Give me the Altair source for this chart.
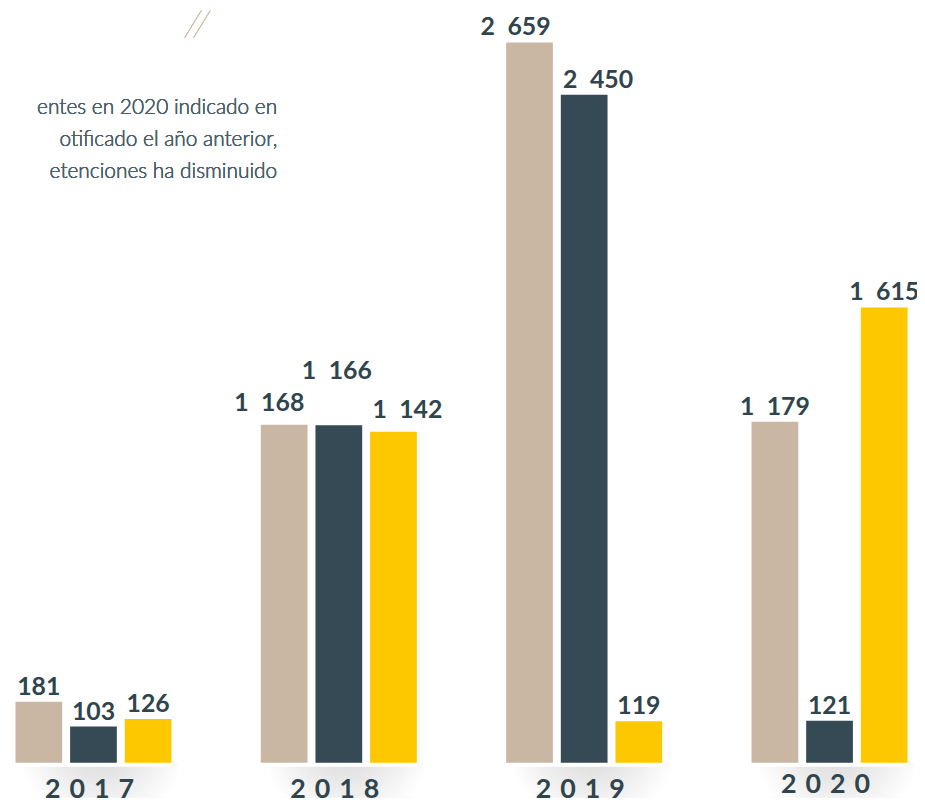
import altair as alt
import pandas as pd

# ---- data ----
years = ["2017", "2018", "2019", "2020"]
series = ["Serie 1", "Serie 2", "Serie 3"]
serie1 = [181, 1168, 2659, 1179]
serie2 = [103, 1166, 2450, 121]
serie3 = [126, 1142, 119, 1615]
colors = ["#c9b7a4", "#354a54", "#fdc800"]
intro_lines = [
    "entes en 2020 indicado en",
    "otificado el año anterior,",
    "etenciones ha disminuido",
]

rows = []
for s, vals in zip(series, [serie1, serie2, serie3]):
    for y, v in zip(years, vals):
        rows.append({"year": y, "serie": s, "value": v,
                     "label": f"{v:,}".replace(",", "\u2002")})
df = pd.DataFrame(rows)
ydf = pd.DataFrame({"year": years, "ylabel": ["\u2004".join(y) for y in years]})

W, H = 915, 800
xscale = alt.Scale(domain=years, range=[7.5, 905.5], paddingInner=0.364, paddingOuter=0)
xoff = alt.Scale(domain=series, paddingInner=0.145, paddingOuter=0)
yscale = alt.Scale(type="pow", exponent=0.92, domain=[0, 2659], range=[757, 32], nice=False, zero=True)

X = alt.X("year:N", scale=xscale, axis=None)
XO = alt.XOffset("serie:N", scale=xoff)
Y = alt.Y("value:Q", scale=yscale, axis=None)

shadow = alt.Chart(ydf).mark_bar(
    xOffset=8, x2Offset=26,
    color=alt.Gradient(gradient="radial", x1=0.5, y1=0.25, r1=0.0, x2=0.5, y2=0.25, r2=0.55,
                       stops=[alt.GradientStop(color="#d4d4d4", offset=0),
                              alt.GradientStop(color="#ffffff", offset=1)]),
).encode(x=X, y=alt.value(756), y2=alt.value(792))

platform = alt.Chart(ydf).mark_bar(color="#ffffff", x2Offset=4).encode(
    x=X, y=alt.value(756), y2=alt.value(761))

bars = alt.Chart(df).mark_bar().encode(
    x=X, xOffset=XO, y=Y,
    color=alt.Color("serie:N", scale=alt.Scale(domain=series, range=colors), legend=None),
)

txt = dict(font="Lato", fontWeight="bold", fontSize=25,
           color="#2f444d", baseline="alphabetic", align="center")

def lbl(cond, dx=0, dy=-7):
    return alt.Chart(df).transform_filter(cond).mark_text(dx=dx, dy=dy, **txt).encode(
        x=X, xOffset=XO, y=Y, text="label:N")

is2018 = alt.datum.year == "2018"
is2019 = alt.datum.year == "2019"
plain = lbl((alt.datum.year != "2018") & (alt.datum.year != "2019"))
l19a = lbl(is2019 & (alt.datum.serie == "Serie 1"), dx=-14)
l19b = lbl(is2019 & (alt.datum.serie == "Serie 2"), dx=14)
l19c = lbl(is2019 & (alt.datum.serie == "Serie 3"))
l18a = lbl(is2018 & (alt.datum.serie == "Serie 1"), dx=-15, dy=-14)
l18b = lbl(is2018 & (alt.datum.serie == "Serie 2"), dx=-2, dy=-47)
l18c = lbl(is2018 & (alt.datum.serie == "Serie 3"), dx=14, dy=-14)

ytxt = dict(font="Lato", fontWeight="bold", fontSize=27, dx=-4,
            color="#2f444d", baseline="alphabetic", align="center")
year_labels = alt.Chart(ydf).transform_filter(alt.datum.year != "2020").mark_text(**ytxt).encode(
    x=X, y=alt.value(793), text="ylabel:N")
year_2020 = alt.Chart(ydf).transform_filter(alt.datum.year == "2020").mark_text(**ytxt).encode(
    x=X, y=alt.value(788), text="ylabel:N")

intro = alt.Chart(ydf).mark_text(
    font="Lato", fontWeight=300, fontSize=21, lineHeight=32,
    color="#4a5f69", align="right", baseline="alphabetic",
).encode(x=alt.value(271), y=alt.value(104), text=alt.value(intro_lines))

chev_col = "#d6bfa9"
def seg(x1, y1, x2, y2):
    return alt.Chart(ydf).mark_rule(color=chev_col, strokeWidth=1).encode(
        x=alt.value(x1), y=alt.value(y1), x2=alt.value(x2), y2=alt.value(y2))

chev = seg(194.5, 0, 178, 27) + seg(203.5, 0, 187, 27)

chart = alt.layer(
    shadow, platform, bars, plain, l19a, l19b, l19c, l18a, l18b, l18c,
    year_labels, year_2020, intro, chev,
).properties(width=W, height=H, padding=0, background="#ffffff",
             autosize=alt.AutoSizeParams(type="none")
).configure_view(strokeWidth=0, stroke="transparent")

chart.save("out.html", embed_options={"renderer": "svg", "actions": False})
